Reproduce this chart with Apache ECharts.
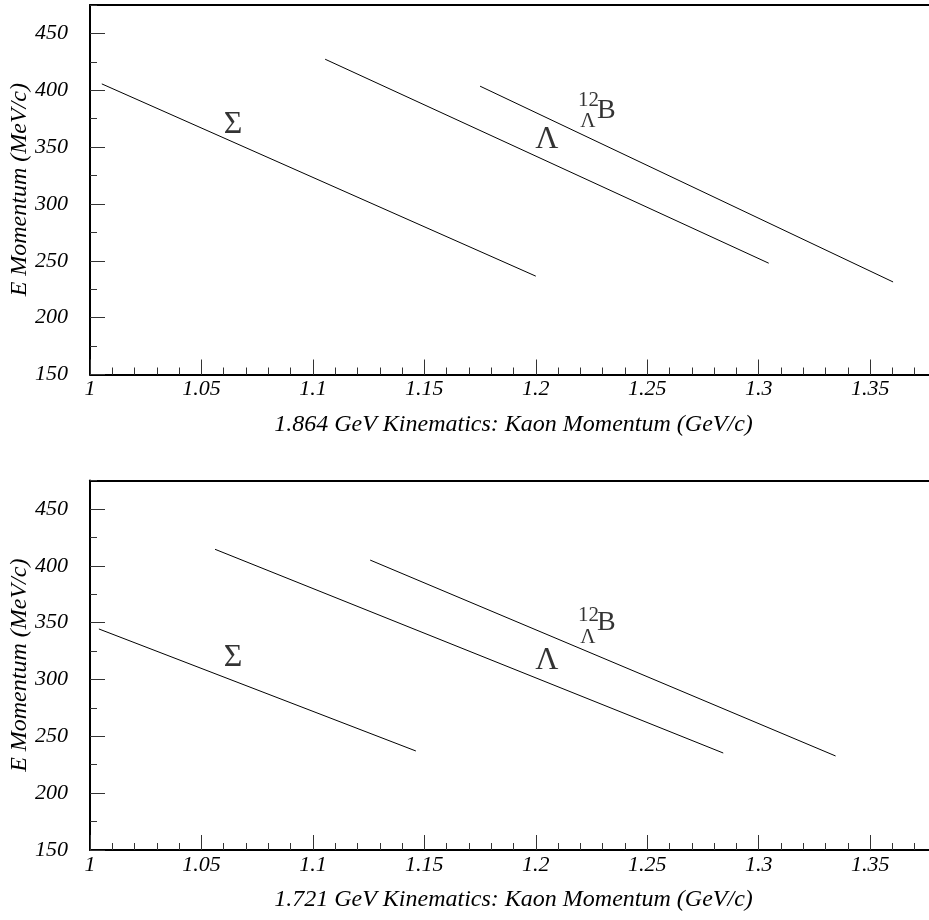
<!DOCTYPE html>
<html>
<head>
<meta charset="utf-8">
<script src="https://cdn.jsdelivr.net/npm/echarts@6/dist/echarts.min.js"></script>
<style>
  html, body { margin: 0; padding: 0; background: #fff; }
  #chart { width: 929px; height: 920px; }
</style>
</head>
<body>
<div id="chart"></div>
<script>
// Axis ranges and tick spacing
const xRange = [1, 1.38];
const yRange = [150, 475];
const xMajorStep = 0.05;
const xMinorStep = 0.01;
const yMajorStep = 50;
const yMinorStep = 25;

// Panel titles (x-axis names)
const panelTitles = [
  '1.864 GeV Kinematics: Kaon Momentum (GeV/c)',
  '1.721 GeV Kinematics: Kaon Momentum (GeV/c)'
];
const yTitle = 'E Momentum (MeV/c)';

// 1.864 GeV kinematics: [kaon momentum GeV/c, E momentum MeV/c]
const sigma1864 = [[1.0053, 405.6], [1.2000, 236.5]];
const lambda1864 = [[1.1055, 427.3], [1.3045, 247.9]];
const boron1864 = [[1.1750, 403.6], [1.3603, 231.4]];

// 1.721 GeV kinematics
const sigma1721 = [[1.0040, 344.4], [1.1462, 237.1]];
const lambda1721 = [[1.0561, 414.5], [1.2841, 235.3]];
const boron1721 = [[1.1257, 405.0], [1.3345, 232.7]];

// Curve labels: [x, y, text, style]
const labels1864 = [
  [1.0642, 370.2, 'Σ', 'greek'],
  [1.2050, 356.5, 'Λ', 'greek'],
  [1.2236, 391.3, '12', 'sup'],
  [1.2234, 372.3, 'Λ', 'sub'],
  [1.2317, 382.0, 'B', 'big']
];
const labels1721 = [
  [1.0642, 318.9, 'Σ', 'greek'],
  [1.2050, 316.2, 'Λ', 'greek'],
  [1.2236, 356.2, '12', 'sup'],
  [1.2234, 336.7, 'Λ', 'sub'],
  [1.2317, 349.6, 'B', 'big']
];

const SERIF = '"Liberation Serif", "DejaVu Serif", serif';
const INK = '#000';

const labelSizes = { greek: 32, sup: 21, sub: 21, big: 28 };

function fmt(v) {
  return String(+(+v).toFixed(3));
}

const grids = [
  { left: 90, right: -8, top: 5, height: 369.5, outerBoundsMode: 'none', containLabel: false },
  { left: 90, right: -8, top: 480.5, height: 369.5, outerBoundsMode: 'none', containLabel: false }
];

const xAxes = [];
const yAxes = [];
const series = [];

function buildPanel(gi, title, curves, texts) {
  const xBase = xAxes.length;
  const yBase = yAxes.length;
  // major x axis: line, long ticks, labels, name
  xAxes.push({
    type: 'value', gridIndex: gi, min: xRange[0], max: xRange[1], interval: xMajorStep,
    position: 'bottom',
    axisLine: { show: true, lineStyle: { color: INK, width: 2 } },
    axisTick: { show: true, inside: true, length: 15, lineStyle: { color: '#333', width: 1 } },
    axisLabel: {
      show: true, margin: 4, showMaxLabel: false, formatter: fmt,
      fontFamily: SERIF, fontStyle: 'italic', fontSize: 22, color: INK
    },
    splitLine: { show: false },
    name: title, nameLocation: 'middle', nameGap: 38, nameMoveOverlap: false,
    nameTextStyle: { fontFamily: SERIF, fontStyle: 'italic', fontSize: 24, color: INK }
  });
  // minor x ticks
  xAxes.push({
    type: 'value', gridIndex: gi, min: xRange[0], max: xRange[1], interval: xMinorStep,
    position: 'bottom',
    axisLine: { show: false },
    axisTick: { show: true, inside: true, length: 7, lineStyle: { color: '#333', width: 1 } },
    axisLabel: { show: false },
    splitLine: { show: false }
  });
  // frame top edge
  xAxes.push({
    type: 'value', gridIndex: gi, min: xRange[0], max: xRange[1],
    position: 'top',
    axisLine: { show: true, lineStyle: { color: INK, width: 2 } },
    axisTick: { show: false }, axisLabel: { show: false }, splitLine: { show: false }
  });
  // major y axis
  yAxes.push({
    type: 'value', gridIndex: gi, min: yRange[0], max: yRange[1], interval: yMajorStep,
    position: 'left',
    axisLine: { show: true, lineStyle: { color: INK, width: 2 } },
    axisTick: { show: true, inside: true, length: 15, lineStyle: { color: '#333', width: 1 } },
    axisLabel: {
      show: true, margin: 22, showMaxLabel: false,
      fontFamily: SERIF, fontStyle: 'italic', fontSize: 22, color: INK
    },
    splitLine: { show: false },
    name: yTitle, nameLocation: 'middle', nameGap: 58, nameMoveOverlap: false,
    nameTextStyle: { fontFamily: SERIF, fontStyle: 'italic', fontSize: 24, color: INK }
  });
  // minor y ticks
  yAxes.push({
    type: 'value', gridIndex: gi, min: yRange[0], max: yRange[1], interval: yMinorStep,
    position: 'left',
    axisLine: { show: false },
    axisTick: { show: true, inside: true, length: 7, lineStyle: { color: '#333', width: 1 } },
    axisLabel: { show: false },
    splitLine: { show: false }
  });

  curves.forEach(function (pts) {
    series.push({
      type: 'line', xAxisIndex: xBase, yAxisIndex: yBase,
      data: pts, showSymbol: false, symbol: 'none', silent: true,
      lineStyle: { color: INK, width: 1 }
    });
  });

  series.push({
    type: 'scatter', xAxisIndex: xBase, yAxisIndex: yBase,
    symbolSize: 0, silent: true,
    data: texts.map(function (t) {
      return {
        value: [t[0], t[1]],
        label: {
          show: true, position: 'inside', formatter: t[2],
          fontFamily: SERIF, fontSize: labelSizes[t[3]], color: INK,
          align: 'center', verticalAlign: 'middle'
        }
      };
    })
  });
}

buildPanel(0, panelTitles[0], [sigma1864, lambda1864, boron1864], labels1864);
buildPanel(1, panelTitles[1], [sigma1721, lambda1721, boron1721], labels1721);

const chart = echarts.init(document.getElementById('chart'), null, { renderer: 'canvas' });
chart.setOption({
  animation: false,
  backgroundColor: '#fff',
  grid: grids,
  xAxis: xAxes,
  yAxis: yAxes,
  series: series
});
</script>
</body>
</html>
